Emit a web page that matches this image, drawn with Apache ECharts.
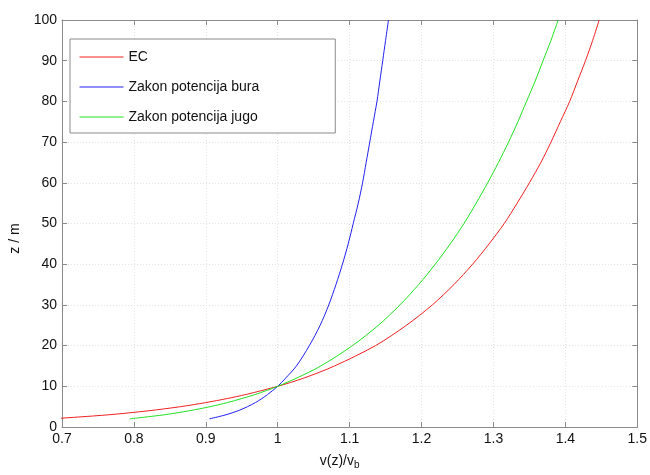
<!DOCTYPE html>
<html>
<head>
<meta charset="utf-8">
<script src="https://cdn.jsdelivr.net/npm/echarts@6/dist/echarts.min.js"></script>
<style>html,body{margin:0;padding:0;background:#fff}#c{width:650px;height:475px}</style>
</head>
<body>
<div id="c"></div>
<script>
// Heights z (m)
var heights = [2, 3, 4, 5, 6, 7, 8, 10, 12, 15, 20, 25, 30, 35, 40, 45, 50, 55, 60, 65, 70, 75, 80, 85, 90, 95, 100];
// v(z)/v_b for each series
var ecValues   = [0.685, 0.765, 0.821, 0.865, 0.900, 0.930, 0.956, 1.000, 1.036, 1.079, 1.136, 1.179, 1.215, 1.245, 1.271, 1.294, 1.315, 1.333, 1.350, 1.366, 1.380, 1.393, 1.406, 1.417, 1.428, 1.438, 1.447];
var buraValues = [0.905, 0.928, 0.945, 0.958, 0.969, 0.978, 0.986, 1.000, 1.011, 1.026, 1.044, 1.059, 1.071, 1.081, 1.090, 1.098, 1.105, 1.112, 1.118, 1.123, 1.128, 1.133, 1.138, 1.142, 1.146, 1.150, 1.154];
var jugoValues = [0.794, 0.842, 0.877, 0.906, 0.930, 0.950, 0.969, 1.000, 1.026, 1.060, 1.104, 1.140, 1.170, 1.196, 1.219, 1.240, 1.259, 1.276, 1.292, 1.307, 1.321, 1.334, 1.346, 1.358, 1.369, 1.380, 1.390];
var seriesNames = ['EC', 'Zakon potencija bura', 'Zakon potencija jugo'];
var xTicks = [0.7, 0.8, 0.9, 1, 1.1, 1.2, 1.3, 1.4, 1.5];
var yTicks = [0, 10, 20, 30, 40, 50, 60, 70, 80, 90, 100];

function pairs(vals) { return vals.map(function (v, i) { return [v, heights[i]]; }); }

var chart = echarts.init(document.getElementById('c'), null, {renderer: 'canvas'});
var font = 'Liberation Sans, Arial, Helvetica, sans-serif';
var axisCol = '#8a8a8a';
var gridLine = {show: true, lineStyle: {color: '#e3e3e3', type: [1, 2], width: 1}};
var colors = ['#f02020', '#2020f0', '#20e020'];

var option = {
  backgroundColor: '#fff',
  animation: false,
  grid: {left: 61, right: 11, top: 20, bottom: 42, containLabel: false},
  legend: {
    show: true,
    orient: 'vertical',
    left: 70, top: 39,
    padding: [11, 76, 9, 9],
    itemGap: 16,
    itemWidth: 44, itemHeight: 14,
    backgroundColor: '#fff',
    borderColor: '#8a8a8a', borderWidth: 1,
    itemStyle: {opacity: 0},
    lineStyle: {width: 1},
    textStyle: {fontFamily: font, fontSize: 14, color: '#111'},
    data: seriesNames
  },
  xAxis: [{
    type: 'value', min: xTicks[0], max: xTicks[xTicks.length - 1], interval: 0.1,
    position: 'bottom',
    name: 'v(z)/v{sub|b}', nameLocation: 'middle', nameGap: 25,
    nameTextStyle: {fontFamily: font, fontSize: 14, color: '#111', padding: [0, 20, 0, 0],
      rich: {sub: {fontSize: 10, verticalAlign: 'bottom', padding: [8, 0, 0, 0], fontFamily: font, color: '#111'}}},
    axisLine: {show: true, onZero: false, lineStyle: {color: axisCol}},
    axisTick: {show: true, inside: true, length: 5, lineStyle: {color: axisCol}},
    axisLabel: {fontFamily: font, fontSize: 14, color: '#111', margin: 5,
      formatter: function (v) { return String(Math.round(v * 10) / 10); }},
    splitLine: gridLine
  }, {
    type: 'value', min: xTicks[0], max: xTicks[xTicks.length - 1], interval: 0.1,
    position: 'top',
    axisLine: {show: true, onZero: false, lineStyle: {color: axisCol}},
    axisTick: {show: true, inside: true, length: 5, lineStyle: {color: axisCol}},
    axisLabel: {show: false}, splitLine: {show: false}
  }],
  yAxis: [{
    type: 'value', min: yTicks[0], max: yTicks[yTicks.length - 1], interval: 10,
    position: 'left',
    name: 'z / m', nameLocation: 'middle', nameGap: 40, nameRotate: 90,
    nameTextStyle: {fontFamily: font, fontSize: 14, color: '#111', padding: [0, 0, 0, -30]},
    axisLine: {show: true, onZero: false, lineStyle: {color: axisCol}},
    axisTick: {show: true, inside: true, length: 5, lineStyle: {color: axisCol}},
    axisLabel: {fontFamily: font, fontSize: 14, color: '#111', margin: 5},
    splitLine: gridLine
  }, {
    type: 'value', min: yTicks[0], max: yTicks[yTicks.length - 1], interval: 10,
    position: 'right',
    axisLine: {show: true, onZero: false, lineStyle: {color: axisCol}},
    axisTick: {show: true, inside: true, length: 5, lineStyle: {color: axisCol}},
    axisLabel: {show: false}, splitLine: {show: false}
  }],
  series: [ecValues, buraValues, jugoValues].map(function (vals, i) {
    return {
      name: seriesNames[i], type: 'line', data: pairs(vals),
      smooth: 0.3, showSymbol: false, symbol: 'none', clip: true,
      lineStyle: {color: colors[i], width: 1}, itemStyle: {color: colors[i]}
    };
  })
};
chart.setOption(option);
</script>
</body>
</html>
